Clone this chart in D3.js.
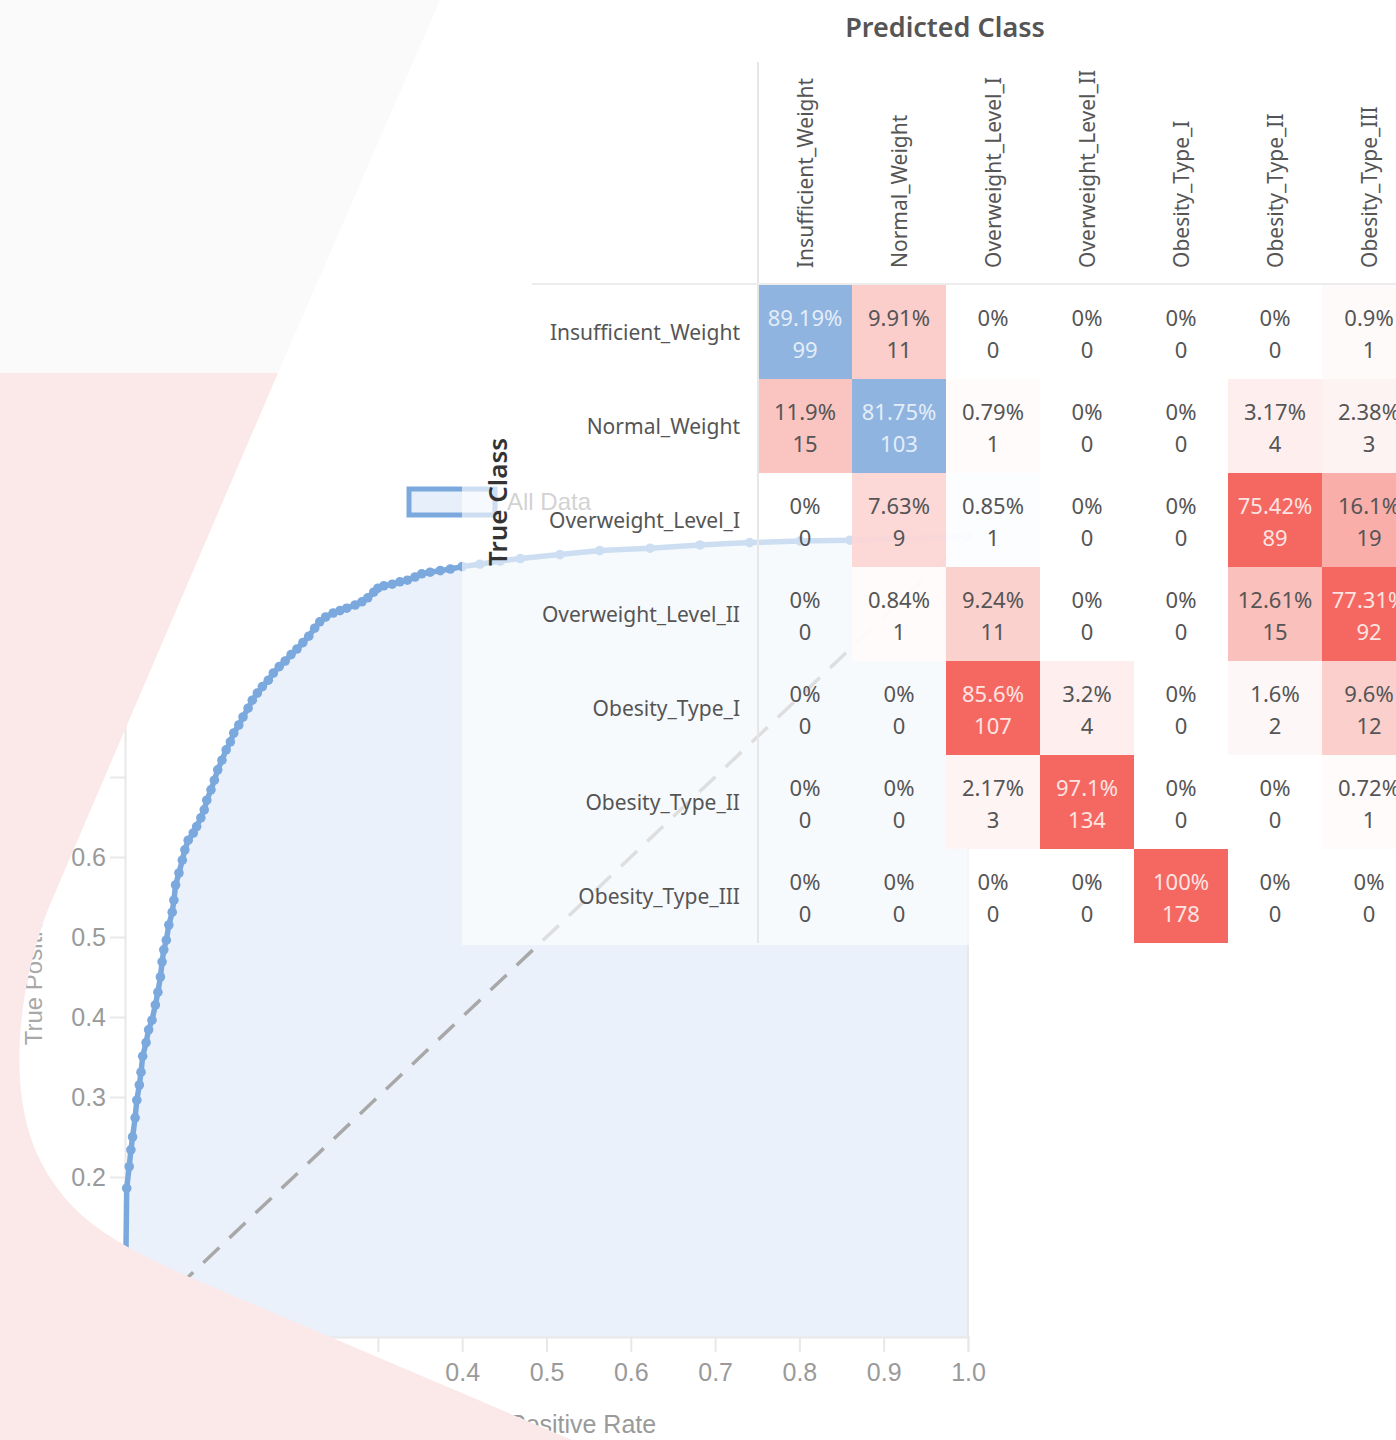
<!DOCTYPE html>
<html>
<head>
<meta charset="utf-8">
<script src="https://cdn.jsdelivr.net/npm/d3@7"></script>
<style>
  html, body { margin: 0; padding: 0; background: #fff; }
  svg { display: block; }
</style>
</head>
<body>
<svg id="chart" width="1396" height="1440"></svg>
<script>
// confusion matrix: rows = true class, columns = predicted class
const classes = [
  "Insufficient_Weight", "Normal_Weight", "Overweight_Level_I", "Overweight_Level_II",
  "Obesity_Type_I", "Obesity_Type_II", "Obesity_Type_III"
];
const cmPercent = [
  [89.19, 9.91, 0, 0, 0, 0, 0.9],
  [11.9, 81.75, 0.79, 0, 0, 3.17, 2.38],
  [0, 7.63, 0.85, 0, 0, 75.42, 16.1],
  [0, 0.84, 9.24, 0, 0, 12.61, 77.31],
  [0, 0, 85.6, 3.2, 0, 1.6, 9.6],
  [0, 0, 2.17, 97.1, 0, 0, 0.72],
  [0, 0, 0, 0, 100, 0, 0]
];
const cmCount = [
  [99, 11, 0, 0, 0, 0, 1],
  [15, 103, 1, 0, 0, 4, 3],
  [0, 9, 1, 0, 0, 89, 19],
  [0, 1, 11, 0, 0, 15, 92],
  [0, 0, 107, 4, 0, 2, 12],
  [0, 0, 3, 134, 0, 0, 1],
  [0, 0, 0, 0, 178, 0, 0]
];

// ROC curve
const rocFpr = [0, 0.002, 0.005, 0.007, 0.009, 0.012, 0.014, 0.017, 0.019, 0.021, 0.025, 0.028, 0.032,
  0.036, 0.039, 0.042, 0.044, 0.046, 0.049, 0.052, 0.056, 0.058, 0.060, 0.064, 0.068, 0.071, 0.075,
  0.081, 0.085, 0.090, 0.094, 0.097, 0.102, 0.106, 0.110, 0.115, 0.120, 0.125, 0.129, 0.135, 0.140,
  0.146, 0.151, 0.157, 0.163, 0.170, 0.176, 0.183, 0.190, 0.197, 0.204, 0.211, 0.218, 0.225, 0.231,
  0.238, 0.247, 0.255, 0.263, 0.273, 0.281, 0.288, 0.295, 0.300, 0.307, 0.317, 0.326, 0.335, 0.344,
  0.352, 0.362, 0.374, 0.386, 0.400, 0.421, 0.445, 0.469, 0.516, 0.563, 0.623, 0.682, 0.741, 0.801,
  0.860, 0.919, 1];
const rocTpr = [0, 0.186, 0.213, 0.234, 0.250, 0.274, 0.296, 0.315, 0.331, 0.351, 0.368, 0.384, 0.396,
  0.415, 0.431, 0.450, 0.469, 0.484, 0.496, 0.515, 0.531, 0.546, 0.565, 0.580, 0.596, 0.609, 0.621,
  0.630, 0.638, 0.649, 0.659, 0.671, 0.684, 0.696, 0.709, 0.721, 0.734, 0.744, 0.755, 0.765, 0.775,
  0.786, 0.796, 0.805, 0.813, 0.821, 0.830, 0.838, 0.845, 0.853, 0.860, 0.868, 0.876, 0.886, 0.894,
  0.900, 0.905, 0.908, 0.911, 0.915, 0.919, 0.924, 0.931, 0.936, 0.939, 0.941, 0.944, 0.946, 0.950,
  0.954, 0.956, 0.958, 0.960, 0.963, 0.966, 0.970, 0.973, 0.978, 0.983, 0.986, 0.990, 0.993, 0.995,
  0.996, 0.998, 1];
const rocTicks = [0, 0.1, 0.2, 0.3, 0.4, 0.5, 0.6, 0.7, 0.8, 0.9, 1.0];
const legendLabel = "All Data";

const svg = d3.select("#chart");
const rocFont = "'Liberation Sans', Arial, sans-serif";
const cmFont = "'Noto Sans', 'Open Sans', sans-serif";

// ---------- ROC chart (bottom layer) ----------
const x = d3.scaleLinear().domain([0, 1]).range([125, 968]);
const y = d3.scaleLinear().domain([0, 1]).range([1337, 537]);
const rocPts = rocFpr.map((f, i) => [f, rocTpr[i]]);

const roc = svg.append("g");

roc.append("path")
  .datum(rocPts)
  .attr("fill", "#eaf1fa")
  .attr("d", d3.area().x(d => x(d[0])).y0(y(0)).y1(d => y(d[1])));

const xAxis = roc.append("g")
  .attr("transform", `translate(0,${y(0)})`)
  .call(d3.axisBottom(x).tickValues(rocTicks).tickSize(15).tickPadding(11).tickFormat(d3.format(".1f")));
const yAxis = roc.append("g")
  .attr("transform", `translate(${x(0)},0)`)
  .call(d3.axisLeft(y).tickValues(rocTicks).tickSize(15).tickPadding(4).tickFormat(d3.format(".1f")));
[xAxis, yAxis].forEach(a => {
  a.select(".domain").attr("stroke", "#e8e8e8").attr("stroke-width", 2);
  a.selectAll(".tick line").attr("stroke", "#e8e8e8").attr("stroke-width", 2);
  a.selectAll(".tick text").attr("fill", "#9a9a9a").style("font", `25px ${rocFont}`);
});
// right edge line at 1.0
roc.append("line")
  .attr("x1", x(1)).attr("x2", x(1)).attr("y1", y(0)).attr("y2", y(1))
  .attr("stroke", "#e8e8e8").attr("stroke-width", 2);

// chance diagonal
roc.append("path")
  .datum([[0, 0], [1, 1]])
  .attr("fill", "none")
  .attr("stroke", "#a8a8a8")
  .attr("stroke-width", 3.5)
  .attr("stroke-dasharray", "22 14")
  .attr("d", d3.line().x(d => x(d[0])).y(d => y(d[1])));

// curve and markers
roc.append("path")
  .datum(rocPts)
  .attr("fill", "none")
  .attr("stroke", "#7ba9dd")
  .attr("stroke-width", 5.5)
  .attr("stroke-linejoin", "round")
  .attr("d", d3.line().x(d => x(d[0])).y(d => y(d[1])));
roc.append("g").selectAll("circle")
  .data(rocPts.slice(1))
  .join("circle")
  .attr("cx", d => x(d[0]))
  .attr("cy", d => y(d[1]))
  .attr("r", 4.8)
  .attr("fill", "#7ba9dd");

// axis titles
roc.append("text")
  .attr("transform", `translate(42,${(y(0) + y(1)) / 2 + 10}) rotate(-90)`)
  .attr("text-anchor", "middle")
  .attr("fill", "#a8a8a8")
  .style("font", `24px ${rocFont}`)
  .text("True Positive Rate");
roc.append("text")
  .attr("x", (x(0) + x(1)) / 2 + 2)
  .attr("y", 1433)
  .attr("text-anchor", "middle")
  .attr("fill", "#9a9a9a")
  .style("font", `25px ${rocFont}`)
  .text("False Positive Rate");

// legend
roc.append("rect")
  .attr("x", 409).attr("y", 489).attr("width", 86).attr("height", 26)
  .attr("fill", "#e7effa").attr("stroke", "#7ba9dd").attr("stroke-width", 5);
roc.append("text")
  .attr("x", 507).attr("y", 510)
  .attr("fill", "#8a8a8a")
  .style("font", `24px ${rocFont}`)
  .text(legendLabel);

// ---------- decorative background shapes ----------
svg.append("path")
  .attr("fill", "#fafafa")
  .attr("d", "M0,0 L440,0 L278,373 L0,373 Z");
svg.append("path")
  .attr("fill", "#fbe9ea")
  .attr("d", "M0,373 L278,373 L52,900 C26,960 0,1080 40,1160 C70,1220 117,1244 187,1276 L572,1440 L0,1440 Z");

// ---------- confusion matrix (top layer) ----------
svg.append("rect")
  .attr("x", 462).attr("y", 0).attr("width", 934).attr("height", 945)
  .attr("fill", "#ffffff").attr("fill-opacity", 0.62);

const cell = 94;
const xc = d3.scaleBand().domain(classes).range([758, 758 + cell * classes.length]);
const yr = d3.scaleBand().domain(classes).range([285, 285 + cell * classes.length]);
const level = d3.scaleLinear().domain([0, 30]).range([0, 1]).clamp(true);
const redScale = d3.interpolateRgb("#ffffff", "#f35f57");
const blueScale = d3.interpolateRgb("#ffffff", "#88afde");

const cells = [];
classes.forEach((rowName, i) => {
  classes.forEach((colName, j) => {
    cells.push({ row: rowName, col: colName, pct: cmPercent[i][j], n: cmCount[i][j], diag: i === j });
  });
});

const cm = svg.append("g");

cm.selectAll("rect.cell")
  .data(cells.filter(d => d.pct > 0))
  .join("rect")
  .attr("class", "cell")
  .attr("x", d => xc(d.col))
  .attr("y", d => yr(d.row))
  .attr("width", xc.bandwidth())
  .attr("height", yr.bandwidth())
  .attr("fill", d => (d.diag ? blueScale : redScale)(level(d.pct)))
  .attr("fill-opacity", 0.94);

const textColor = d => level(d.pct) > 0.7 ? (d.diag ? "#e4edf8" : "#fde4e2") : "#555";

cm.selectAll("text.pct")
  .data(cells)
  .join("text")
  .attr("class", "pct")
  .attr("x", d => xc(d.col) + xc.bandwidth() / 2)
  .attr("y", d => yr(d.row) + 32)
  .attr("text-anchor", "middle")
  .attr("dominant-baseline", "central")
  .attr("fill", textColor)
  .style("font", `22px ${cmFont}`)
  .text(d => `${d.pct}%`);

cm.selectAll("text.cnt")
  .data(cells)
  .join("text")
  .attr("class", "cnt")
  .attr("x", d => xc(d.col) + xc.bandwidth() / 2)
  .attr("y", d => yr(d.row) + 64)
  .attr("text-anchor", "middle")
  .attr("dominant-baseline", "central")
  .attr("fill", textColor)
  .style("font", `22px ${cmFont}`)
  .text(d => d.n);

// separators
cm.append("line")
  .attr("x1", 758).attr("x2", 758).attr("y1", 62).attr("y2", yr.range()[1])
  .attr("stroke", "#e6e6e6").attr("stroke-width", 2);
cm.append("line")
  .attr("x1", 532).attr("x2", 1396).attr("y1", 284).attr("y2", 284)
  .attr("stroke", "#ececec").attr("stroke-width", 2);

// row labels
cm.selectAll("text.row")
  .data(classes)
  .join("text")
  .attr("class", "row")
  .attr("x", 740)
  .attr("y", d => yr(d) + yr.bandwidth() / 2)
  .attr("text-anchor", "end")
  .attr("dominant-baseline", "central")
  .attr("fill", "#555")
  .style("font", `21px ${cmFont}`)
  .text(d => d);

// column labels
cm.selectAll("text.col")
  .data(classes)
  .join("text")
  .attr("class", "col")
  .attr("transform", d => `translate(${xc(d) + xc.bandwidth() / 2},268) rotate(-90)`)
  .attr("text-anchor", "start")
  .attr("dominant-baseline", "central")
  .attr("fill", "#555")
  .style("font", `21px ${cmFont}`)
  .text(d => d);

// titles
cm.append("text")
  .attr("x", 945).attr("y", 26)
  .attr("text-anchor", "middle")
  .attr("dominant-baseline", "central")
  .attr("fill", "#555")
  .style("font", `600 27px ${cmFont}`)
  .text("Predicted Class");
cm.append("text")
  .attr("transform", "translate(497,502) rotate(-90)")
  .attr("text-anchor", "middle")
  .attr("dominant-baseline", "central")
  .attr("fill", "#333")
  .style("font", `600 26px ${cmFont}`)
  .text("True Class");
</script>
</body>
</html>
